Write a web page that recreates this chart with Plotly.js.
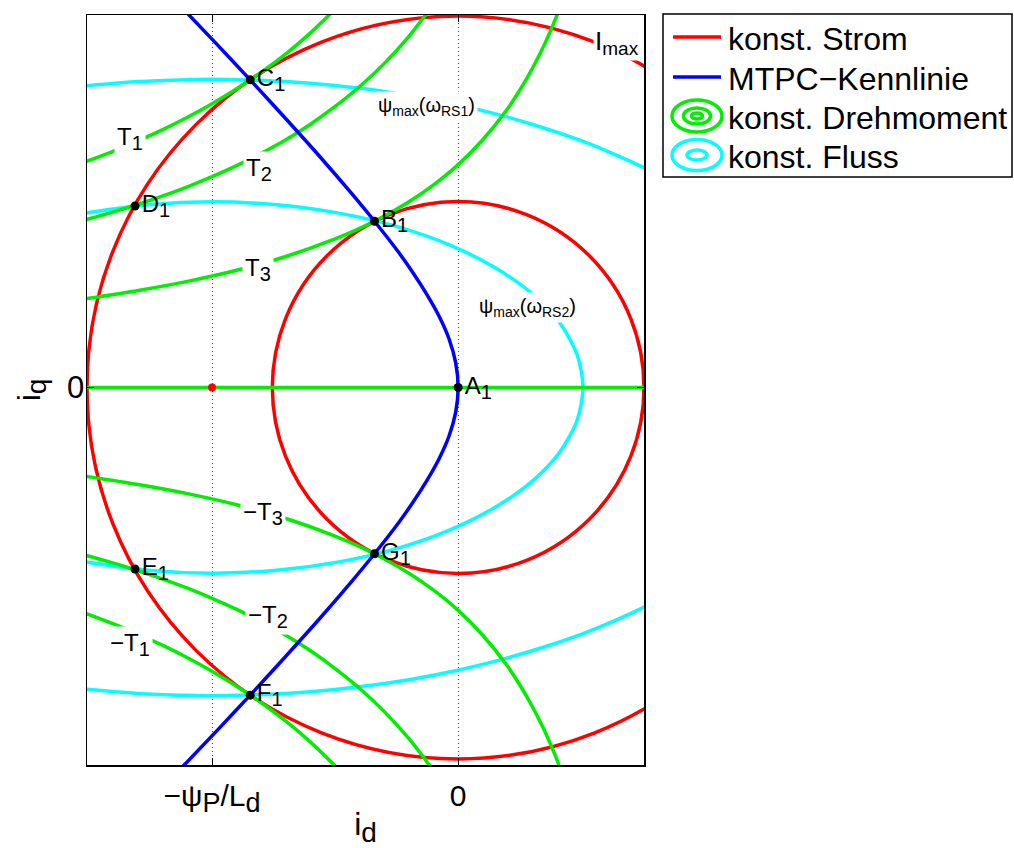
<!DOCTYPE html>
<html>
<head>
<meta charset="utf-8">
<script src="https://cdn.plot.ly/plotly-3.0.1.min.js"></script>
<style>html,body{margin:0;padding:0;background:#fff;}#chart{width:1014px;height:848px;}</style>
</head>
<body>
<div id="chart"></div>
<script>
// ---------- data (normalised: currents in units of psi_P/L_d) ----------
const xTickVals = [-1, 0];
const xTickText = ['−ψ<sub><span style="font-size:27px">P</span></sub>/L<sub><span style="font-size:27px">d</span></sub>', '0'];
const yTickVals = [0];
const yTickText = ['0'];

// constant current circles (radius): I_max and the smaller current
const currentRadii = [1.508, 0.755];

// constant torque curves
const idT1 = [-1.51, -1.4, -1.3, -1.2, -1.1, -1.0, -0.9, -0.8, -0.7, -0.6, -0.5];
const iqT1 = [0.918, 0.960, 1.002, 1.047, 1.097, 1.152, 1.213, 1.280, 1.355, 1.440, 1.536];
const idT2 = [-1.51, -1.4, -1.3, -1.2, -1.1, -1.0, -0.9, -0.8, -0.7, -0.6, -0.5, -0.4, -0.3, -0.2, -0.1];
const iqT2 = [0.682, 0.713, 0.744, 0.778, 0.815, 0.856, 0.901, 0.951, 1.006, 1.069, 1.141, 1.222, 1.316, 1.426, 1.556];
const idT3 = [-1.51, -1.3, -1.1, -0.9, -0.7, -0.5, -0.4, -0.3, -0.2, -0.1, 0.0, 0.1, 0.2, 0.25, 0.3, 0.35, 0.4, 0.45];
const iqT3 = [0.361, 0.394, 0.431, 0.476, 0.532, 0.603, 0.646, 0.696, 0.754, 0.823, 0.905, 1.006, 1.131, 1.207, 1.293, 1.392, 1.508, 1.646];
const idTm1 = [-1.51, -1.4, -1.3, -1.2, -1.1, -1.0, -0.9, -0.8, -0.7, -0.6, -0.5];
const iqTm1 = [-0.918, -0.960, -1.002, -1.047, -1.097, -1.152, -1.213, -1.280, -1.355, -1.440, -1.536];
const idTm2 = [-1.51, -1.4, -1.3, -1.2, -1.1, -1.0, -0.9, -0.8, -0.7, -0.6, -0.5, -0.4, -0.3, -0.2, -0.1];
const iqTm2 = [-0.682, -0.713, -0.744, -0.778, -0.815, -0.856, -0.901, -0.951, -1.006, -1.069, -1.141, -1.222, -1.316, -1.426, -1.556];
const idTm3 = [-1.51, -1.3, -1.1, -0.9, -0.7, -0.5, -0.4, -0.3, -0.2, -0.1, 0.0, 0.1, 0.2, 0.25, 0.3, 0.35, 0.4, 0.45];
const iqTm3 = [-0.361, -0.394, -0.431, -0.476, -0.532, -0.603, -0.646, -0.696, -0.754, -0.823, -0.905, -1.006, -1.131, -1.207, -1.293, -1.392, -1.508, -1.646];
const idT0 = [-1.51, 0.76];
const iqT0 = [0, 0];

// MTPC characteristic
const idMTPC = [-1.117, -0.978, -0.845, -0.703, -0.567, -0.434, -0.340, -0.242, -0.183, -0.128, -0.078, -0.037, -0.010, 0,
                -0.010, -0.037, -0.078, -0.128, -0.183, -0.242, -0.340, -0.434, -0.567, -0.703, -0.845, -0.978, -1.117];
const iqMTPC = [1.537, 1.391, 1.249, 1.094, 0.943, 0.789, 0.675, 0.549, 0.465, 0.379, 0.290, 0.197, 0.100, 0,
                -0.100, -0.197, -0.290, -0.379, -0.465, -0.549, -0.675, -0.789, -0.943, -1.094, -1.249, -1.391, -1.537];

// constant flux ellipses
const idPsi1 = [-1.51, -1.3, -1.1, -1.0, -0.9, -0.7, -0.5, -0.3, -0.1, 0.1, 0.3, 0.5, 0.6, 0.7, 0.76];
const iqPsi1Up = [1.225, 1.242, 1.250, 1.252, 1.250, 1.242, 1.226, 1.202, 1.168, 1.124, 1.069, 1.002, 0.962, 0.918, 0.890];
const iqPsi1Dn = [-1.225, -1.242, -1.250, -1.252, -1.250, -1.242, -1.226, -1.202, -1.168, -1.124, -1.069, -1.002, -0.962, -0.918, -0.890];
const idPsi2 = [-1.515, -1.262, -1.0, -0.738, -0.485, -0.247, -0.031, 0.154, 0.305, 0.416, 0.484, 0.507,
                0.484, 0.416, 0.305, 0.154, -0.031, -0.247, -0.485, -0.738, -1.0, -1.262, -1.515];
const iqPsi2 = [0.708, 0.742, 0.754, 0.742, 0.708, 0.653, 0.577, 0.484, 0.377, 0.258, 0.131, 0,
                -0.131, -0.258, -0.377, -0.484, -0.577, -0.653, -0.708, -0.742, -0.754, -0.742, -0.708];

// operating points
const pointNames = ['A', 'B', 'C', 'D', 'E', 'F', 'G'];
const pointId = [0, -0.340, -0.845, -1.313, -1.313, -0.845, -0.340];
const pointIq = [0, 0.675, 1.249, 0.737, -0.737, -1.249, -0.675];

// centre of the flux ellipses
const centreId = [-1];
const centreIq = [0];

// inline curve labels
const SUBF = s => '<sub><span style="font-size:20px">' + s + '</span></sub>';
const curveLabels = ['T' + SUBF('1'), 'T' + SUBF('2'), 'T' + SUBF('3'), '−T' + SUBF('3'), '−T' + SUBF('2'), '−T' + SUBF('1')];
const curveLabelId = [-1.332, -0.808, -0.8145, -0.792, -0.774, -1.332];
const curveLabelIq = [1.013, 0.887, 0.481, -0.510, -0.928, -1.045];
const fluxLabels = ['ψ<sub>max</sub>(ω<sub>RS1</sub>)', 'ψ<sub>max</sub>(ω<sub>RS2</sub>)'];
const fluxLabelId = [-0.128, 0.282];
const fluxLabelIq = [1.141, 0.325];
const imaxLabel = 'I<sub><span style="font-size:19px">max</span></sub>';
const imaxLabelPos = [0.644, 1.401];

const legendLabels = ['konst. Strom', 'MTPC−Kennlinie', 'konst. Drehmoment', 'konst. Fluss'];

// ---------- styling ----------
const FONT = 'Liberation Sans, Arial, Helvetica, sans-serif';
const RED = '#ff0000', BLUE = '#0000ff', GREEN = '#00ee00', CYAN = '#00ffff';
const LW = 3.5;

function line(x, y, color) {
  return {x: x, y: y, mode: 'lines', type: 'scatter', line: {color: color, width: LW, shape: 'spline', smoothing: 0.8},
          hoverinfo: 'skip', showlegend: false};
}

const traces = [
  line(idPsi1, iqPsi1Up, CYAN),
  line(idPsi1, iqPsi1Dn, CYAN),
  line(idPsi2, iqPsi2, CYAN),
  line(idT1, iqT1, GREEN), line(idT2, iqT2, GREEN), line(idT3, iqT3, GREEN),
  line(idTm1, iqTm1, GREEN), line(idTm2, iqTm2, GREEN), line(idTm3, iqTm3, GREEN),
  line(idT0, iqT0, GREEN),
  line(idMTPC, iqMTPC, BLUE),
  {x: centreId, y: centreIq, mode: 'markers', type: 'scatter', marker: {color: RED, size: 8}, showlegend: false, hoverinfo: 'skip'},
  {x: pointId, y: pointIq, mode: 'markers+text', type: 'scatter',
   marker: {color: '#000', size: 9},
   text: pointNames.map(n => n + SUBF('1')), textposition: 'middle right',
   textfont: {family: FONT, size: 24, color: '#000'}, showlegend: false, hoverinfo: 'skip'}
];

// plot-area geometry in page pixels (for the hand-drawn legend)
const PL = 87, PT = 15, PW = 557, PH = 750;
const px = x => (x - PL) / PW;
const py = y => (PT + PH - y) / PH;

const shapes = currentRadii.map(r => ({type: 'circle', xref: 'x', yref: 'y', x0: -r, y0: -r, x1: r, y1: r,
  line: {color: RED, width: LW}, layer: 'below'}));

// legend box and icons
shapes.push({type: 'rect', xref: 'paper', yref: 'paper', x0: px(663), x1: px(1012), y0: py(177), y1: py(14),
  line: {color: '#000', width: 1.5}, fillcolor: 'rgba(0,0,0,0)'});
const rowY = [37, 77, 116, 155];
shapes.push({type: 'line', xref: 'paper', yref: 'paper', x0: px(673), x1: px(721), y0: py(rowY[0]), y1: py(rowY[0]), line: {color: RED, width: LW}});
shapes.push({type: 'line', xref: 'paper', yref: 'paper', x0: px(673), x1: px(721), y0: py(rowY[1]), y1: py(rowY[1]), line: {color: BLUE, width: LW}});
[[25, 16], [13.5, 8], [5.5, 3]].forEach(([a, b]) => shapes.push({type: 'circle', xref: 'paper', yref: 'paper',
  x0: px(697 - a), x1: px(697 + a), y0: py(rowY[2] + b), y1: py(rowY[2] - b), line: {color: GREEN, width: LW}}));
[[25, 15.5], [10, 5]].forEach(([a, b]) => shapes.push({type: 'circle', xref: 'paper', yref: 'paper',
  x0: px(697 - a), x1: px(697 + a), y0: py(rowY[3] + b), y1: py(rowY[3] - b), line: {color: CYAN, width: LW}}));

const annotations = [];
legendLabels.forEach((t, i) => annotations.push({xref: 'paper', yref: 'paper', x: px(726), y: py(rowY[i] + 2),
  xanchor: 'left', yanchor: 'middle', text: t, showarrow: false, font: {family: FONT, size: 32, color: '#000'}}));
curveLabels.forEach((t, i) => annotations.push({x: curveLabelId[i], y: curveLabelIq[i], text: t, showarrow: false,
  xanchor: 'center', yanchor: 'middle', bgcolor: '#fff', borderpad: 2, font: {family: FONT, size: 24, color: '#000'}}));
fluxLabels.forEach((t, i) => annotations.push({x: fluxLabelId[i], y: fluxLabelIq[i], text: t, showarrow: false,
  xanchor: 'center', yanchor: 'middle', bgcolor: '#fff', borderpad: 2, font: {family: FONT, size: 20, color: '#000'}}));
annotations.push({x: imaxLabelPos[0], y: imaxLabelPos[1], text: imaxLabel, showarrow: false,
  xanchor: 'center', yanchor: 'middle', bgcolor: '#fff', borderpad: 1, font: {family: FONT, size: 26, color: '#000'}});

const axisCommon = {
  showline: true, mirror: 'allticks', linecolor: '#000', linewidth: 1.5,
  ticks: 'inside', ticklen: 7, tickwidth: 1, tickcolor: '#000',
  showgrid: true, gridcolor: '#444', gridwidth: 1, griddash: '1px,3px', zeroline: false,
  tickfont: {family: FONT, size: 30, color: '#000'}, tickmode: 'array', fixedrange: true
};

const layout = {
  width: 1014, height: 848,
  margin: {l: PL, r: 1014 - PL - PW, t: PT, b: 848 - PT - PH, pad: 0},
  paper_bgcolor: '#fff', plot_bgcolor: '#fff',
  showlegend: false,
  font: {family: FONT, color: '#000'},
  xaxis: Object.assign({}, axisCommon, {range: [-1.508, 0.755], tickvals: xTickVals, ticktext: xTickText,
    ticklabelstandoff: 3,
    title: {text: 'i<sub><span style="font-size:28px">d</span></sub>', font: {family: FONT, size: 32, color: '#000'}, standoff: 0}}),
  yaxis: Object.assign({}, axisCommon, {range: [-1.5327, 1.5124], tickvals: yTickVals, ticktext: yTickText,
    ticklabelstandoff: -5, tickfont: {family: FONT, size: 31, color: '#000'},
    title: {text: 'i<sub><span style="font-size:28px">q</span></sub>', font: {family: FONT, size: 32, color: '#000'}, standoff: 17}}),
  shapes: shapes,
  annotations: annotations
};

Plotly.newPlot('chart', traces, layout, {staticPlot: true, displayModeBar: false});
</script>
</body>
</html>
